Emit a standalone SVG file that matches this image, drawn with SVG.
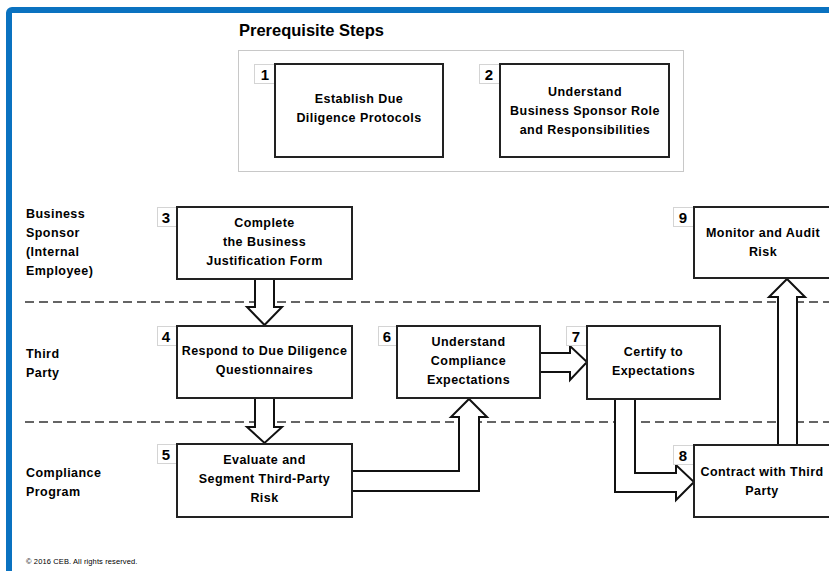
<svg xmlns="http://www.w3.org/2000/svg" width="829" height="571" viewBox="0 0 829 571">
<style>
text{font-family:"Liberation Sans",Arial,sans-serif;fill:#000}
.t{font-size:12.5px;font-weight:bold;text-anchor:middle;letter-spacing:0.45px}
.lane{font-size:12.5px;font-weight:bold;letter-spacing:0.45px}
.num{font-size:15px;font-weight:bold;text-anchor:middle}
.box{fill:#fff;stroke:#222;stroke-width:2}
.tab{fill:#fff;stroke:#d4d4d4;stroke-width:1}
.arr{fill:#fff;stroke:#111;stroke-width:2;stroke-linejoin:miter}
.dash{stroke:#333;stroke-width:1.3;stroke-dasharray:9 5;fill:none}
</style>
<rect x="0" y="0" width="829" height="571" fill="#fff"/>
<rect x="9" y="10" width="840" height="580" rx="3" fill="none" stroke="#0a72c0" stroke-width="6"/>
<text x="239" y="36" style="font-size:16.5px;font-weight:bold">Prerequisite Steps</text>
<rect x="238.5" y="50.5" width="445" height="121" fill="#fff" stroke="#c8c8c8" stroke-width="1"/>
<g id="lanes">
<text class="lane" x="26" y="218">Business</text>
<text class="lane" x="26" y="237">Sponsor</text>
<text class="lane" x="26" y="256">(Internal</text>
<text class="lane" x="26" y="275">Employee)</text>
<text class="lane" x="26" y="358">Third</text>
<text class="lane" x="26" y="377">Party</text>
<text class="lane" x="26" y="477">Compliance</text>
<text class="lane" x="26" y="496">Program</text>
<line class="dash" x1="25" y1="302" x2="829" y2="302"/>
<line class="dash" x1="25" y1="422" x2="829" y2="422"/>
</g>
<g id="connectors">
<path class="arr" d="M255,279 L255,307 L247,307 L264.5,325 L282,307 L274,307 L274,279 Z"/>
<path class="arr" d="M255,398 L255,427 L247,427 L264.5,443 L282,427 L274,427 L274,398 Z"/>
<path class="arr" d="M352,471 L459,471 L459,417 L451,417 L469,399 L487,417 L479,417 L479,491 L352,491 Z"/>
<path class="arr" d="M540,353 L570,353 L570,346 L587,362 L570,380 L570,372 L540,372 Z"/>
<path class="arr" d="M615,399 L615,492 L676,492 L676,500 L694,482 L676,465 L676,473 L635,473 L635,399 Z"/>
<path class="arr" d="M778,445 L778,297 L769,297 L787,279 L805,297 L797,297 L797,445 Z"/>
</g>
<g id="n1">
<rect class="tab" x="254.5" y="64.5" width="21" height="19"/>
<text class="num" x="265" y="80">1</text>
<rect class="box" x="275" y="64" width="168" height="93"/>
<text class="t" x="359" y="103">Establish Due</text>
<text class="t" x="359" y="122">Diligence Protocols</text>
</g>
<g id="n2">
<rect class="tab" x="479.5" y="64.5" width="21" height="19"/>
<text class="num" x="489" y="80">2</text>
<rect class="box" x="500" y="64" width="169" height="93"/>
<text class="t" x="585" y="96">Understand</text>
<text class="t" x="585" y="115">Business Sponsor Role</text>
<text class="t" x="585" y="134">and Responsibilities</text>
</g>
<g id="n3">
<rect class="tab" x="157.5" y="207.5" width="20" height="19"/>
<text class="num" x="166" y="223">3</text>
<rect class="box" x="177" y="207" width="175" height="72"/>
<text class="t" x="264.5" y="227">Complete</text>
<text class="t" x="264.5" y="246">the Business</text>
<text class="t" x="264.5" y="265">Justification Form</text>
</g>
<g id="n4">
<rect class="tab" x="157.5" y="326.5" width="20" height="19"/>
<text class="num" x="166" y="342">4</text>
<rect class="box" x="177" y="326" width="175" height="72"/>
<text class="t" x="264.5" y="355">Respond to Due Diligence</text>
<text class="t" x="264.5" y="374">Questionnaires</text>
</g>
<g id="n5">
<rect class="tab" x="157.5" y="444.5" width="20" height="19"/>
<text class="num" x="166" y="460">5</text>
<rect class="box" x="177" y="444" width="175" height="73"/>
<text class="t" x="264.5" y="464">Evaluate and</text>
<text class="t" x="264.5" y="483">Segment Third-Party</text>
<text class="t" x="264.5" y="502">Risk</text>
</g>
<g id="n6">
<rect class="tab" x="378.5" y="326.5" width="19" height="19"/>
<text class="num" x="387" y="342">6</text>
<rect class="box" x="397" y="326" width="143" height="72"/>
<text class="t" x="468.5" y="346">Understand</text>
<text class="t" x="468.5" y="365">Compliance</text>
<text class="t" x="468.5" y="384">Expectations</text>
</g>
<g id="n7">
<rect class="tab" x="566.5" y="326.5" width="21" height="19"/>
<text class="num" x="576" y="342">7</text>
<rect class="box" x="587" y="326" width="133" height="73"/>
<text class="t" x="653.5" y="356">Certify to</text>
<text class="t" x="653.5" y="375">Expectations</text>
</g>
<g id="n8">
<rect class="tab" x="673.5" y="445.5" width="21" height="19"/>
<text class="num" x="683" y="461">8</text>
<rect class="box" x="694" y="445" width="150" height="72"/>
<text class="t" x="762" y="476">Contract with Third</text>
<text class="t" x="762" y="495">Party</text>
</g>
<g id="n9">
<rect class="tab" x="673.5" y="207.5" width="21" height="19"/>
<text class="num" x="683" y="223">9</text>
<rect class="box" x="694" y="207" width="150" height="71"/>
<text class="t" x="763" y="237">Monitor and Audit</text>
<text class="t" x="763" y="256">Risk</text>
</g>
<text x="26" y="564" style="font-size:7.5px;letter-spacing:0.12px">© 2016 CEB. All rights reserved.</text>
</svg>
